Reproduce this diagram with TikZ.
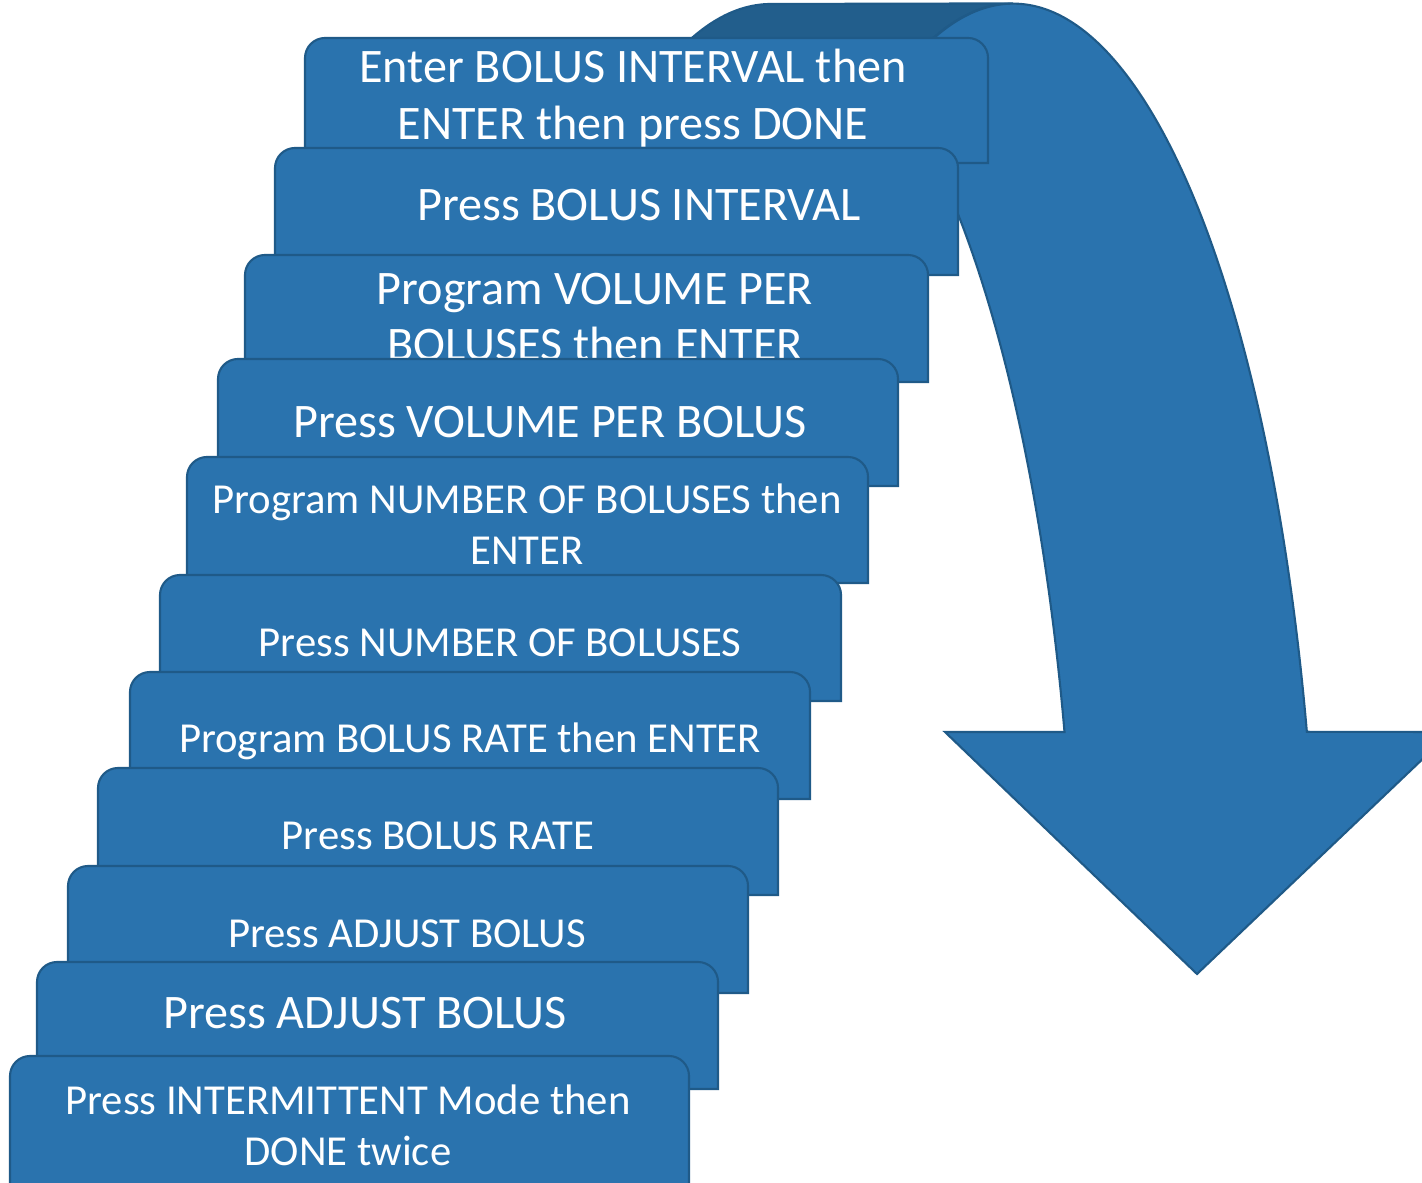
\documentclass[tikz,border=0pt]{standalone}
\usepackage{fontspec}
\setmainfont{Carlito}
\usetikzlibrary{positioning}

\definecolor{stepblue}{HTML}{2A73AE}
\definecolor{stepedge}{HTML}{1F5A88}
\definecolor{backblue}{HTML}{225E8C}

\tikzset{
  stepfill/.style={fill=stepblue, draw=stepedge, line width=0.6pt},
  backfill/.style={fill=backblue, draw=stepedge, line width=0.6pt},
  bigtext/.style={text=white, align=center, inner sep=0pt, font=\fontsize{13.7}{16.1}\selectfont},
  smalltext/.style={text=white, align=center, inner sep=0pt, font=\fontsize{12.15}{14.6}\selectfont},
  arcsize/.style={x radius=3.05cm, y radius=10cm}
}

% one stair step: left, right, top, bottom
\newcommand{\stepshape}[4]{%
  \path[stepfill] (#1,#4) -- (#1,#3-20) arc[start angle=180, end angle=90, radius=0.2cm]
    -- (#2-20,#3) arc[start angle=90, end angle=0, radius=0.2cm] -- (#2,#4) -- cycle;}

\begin{document}
\begin{tikzpicture}[x=0.01cm, y=0.01cm]
\useasboundingbox (0,0) rectangle (1422,1182);
\clip (0,0) rectangle (1422,1182);

% curved arrow
\path[backfill] (771,1178) arc[start angle=90, end angle=180, arcsize] -- (708,178)
    arc[start angle=180, end angle=90, arcsize] -- cycle;
\path[stepfill] (892,1096) arc[start angle=113.4, end angle=90, arcsize]
    arc[start angle=90, end angle=15.8, arcsize]
    -- (1451,450) -- (1197,208) -- (945,450) -- (1064.5,450)
    arc[start angle=15.8, end angle=66.6, arcsize] -- cycle;

% steps, from the top down
\stepshape{305}{988}{1144}{1019}
\node[bigtext] (t1) at (633,1084) {Enter BOLUS INTERVAL then\\ENTER then press DONE};
\stepshape{275}{958}{1034}{907}
\node[bigtext] (t2) at (639,977) {Press BOLUS INTERVAL};
\stepshape{245}{928}{927}{800}
\node[bigtext] (t3) at (595,865) {Program VOLUME PER\\BOLUSES then ENTER};
\stepshape{218}{898}{823}{696}
\node[bigtext] (t4) at (550,760) {Press VOLUME PER BOLUS};
\stepshape{187}{868}{725}{599}
\node[smalltext] (t5) at (527,658) {Program NUMBER OF BOLUSES then\\ENTER};
\stepshape{160}{841}{607}{481}
\node[smalltext] (t6) at (500,539) {Press NUMBER OF BOLUSES};
\stepshape{130}{810}{510}{383}
\node[smalltext] (t7) at (470,441) {Program BOLUS RATE then ENTER};
\stepshape{98}{778}{414}{287}
\node[smalltext] (t8) at (438,346) {Press BOLUS RATE};
\stepshape{68}{748}{316}{189}
\node[smalltext] (t9) at (407,248) {Press ADJUST BOLUS};
\stepshape{37}{718}{220}{93}
\node[bigtext] (t10) at (365,169) {Press ADJUST BOLUS};
\stepshape{10}{689}{126}{-30}
\node[smalltext] (t11) at (348,57) {Press INTERMITTENT Mode then\\DONE twice};
\end{tikzpicture}
\end{document}
